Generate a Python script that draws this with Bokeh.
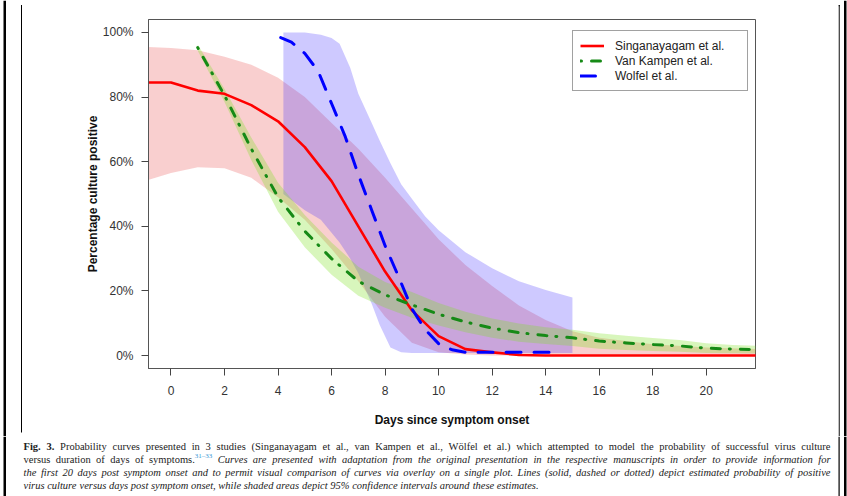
from bokeh.plotting import figure
from bokeh.layouts import row, column
from bokeh.models import Range1d, FixedTicker, Legend, LegendItem
from bokeh.core.properties import value
from bokeh.embed import file_html
from bokeh.resources import INLINE

# ---------------- data ----------------
x_ticks = [0, 2, 4, 6, 8, 10, 12, 14, 16, 18, 20]
y_ticks = [0, 20, 40, 60, 80, 100]
y_tick_labels = ["0%", "20%", "40%", "60%", "80%", "100%"]

series_names = ["Singanayagam et al.", "Van Kampen et al.", "Wolfel et al."]

# Singanayagam et al.
sing_days = [-1, 0, 1, 2, 3, 4, 5, 6, 7, 8, 9, 10, 11, 12, 13, 14, 15, 16, 18, 20, 22]
sing_est = [84.5, 84.5, 82, 81, 77.5, 72.5, 64.5, 54, 40, 26, 14, 6, 2, 1, 0.2, 0, 0, 0, 0, 0, 0]
sing_upper = [95.5, 95.2, 94.5, 92.5, 90, 86, 80, 72, 64, 55, 45.5, 36, 28, 21.5, 15.5, 11, 7.5, 5.5, 3.5, 2.5, 2]
sing_lower = [54, 56.5, 58.3, 58, 55, 49, 42, 33, 23, 12, 4, 1, 0.3, 0, 0, 0, 0, 0, 0, 0, 0]

# Van Kampen et al.
vk_days = [1, 2, 3, 4, 5, 6, 7, 8, 9, 10, 11, 12, 13, 14, 15, 16, 17, 18, 19, 20, 21, 22]
vk_est = [95.3, 80.5, 64, 49, 38.5, 30, 23, 18.8, 15.7, 12.8, 10.4, 8.5, 7.1, 6.2, 5.5, 4.5, 3.9, 3.4, 3.0, 2.3, 2.0, 1.8]
vk_upper = [96.3, 82.5, 67.5, 53.5, 43.5, 35, 27.5, 22.8, 19.7, 16.3, 13.6, 11.5, 9.9, 8.8, 8.0, 6.9, 6.1, 5.4, 4.8, 3.8, 3.3, 3.0]
vk_lower = [94.3, 78.5, 60.5, 44.5, 33.5, 25, 18.5, 14.8, 11.7, 9.3, 7.2, 5.5, 4.3, 3.6, 3.0, 2.1, 1.7, 1.4, 1.2, 0.8, 0.7, 0.6]

# Wolfel et al.
wolf_days = [4.1, 4.5, 5, 5.5, 6, 6.5, 7, 7.5, 8, 8.5, 9, 9.5, 10, 10.5, 11, 12, 13, 14, 14.6]
wolf_est = [98.4, 97, 93.5, 88, 78, 68, 56, 45, 34, 24.5, 14.5, 8, 3.7, 1.8, 1, 1, 1, 1, 1]
wolf_ci_days = [4.2, 5, 5.6, 6, 6.3, 6.7, 7, 7.5, 7.8, 8.2, 8.6, 9, 9.5, 10, 11, 12, 13, 14, 15]
wolf_upper = [100, 100, 99.3, 98.3, 96.5, 89, 81, 72, 66.5, 59.5, 53, 48.5, 43, 38.8, 32, 27, 23, 20.3, 18]
wolf_lower = [50, 45, 42, 38, 35, 30, 25.5, 16, 9.5, 2.5, 1, 0.8, 0.8, 0.8, 0.8, 0.8, 0.8, 0.8, 0.8]

caption_lines = [
    [("Fig. 3.", "bold"),
     ("Probability curves presented in 3 studies (Singanayagam et al., van Kampen et al., Wölfel et al.) "
      "which attempted to model the probability of successful virus culture", "normal")],
    [("versus duration of days of symptoms.", "normal"), ("31\u201333", "sup"),
     ("Curves are presented with adaptation from the original presentation in the respective "
      "manuscripts in order to provide information for", "italic")],
    [("the first 20 days post symptom onset and to permit visual comparison of curves via overlay on a "
      "single plot. Lines (solid, dashed or dotted) depict estimated probability of positive", "italic")],
    [("virus culture versus days post symptom onset, while shaded areas depict 95% confidence intervals "
      "around these estimates.", "italic")],
]
caption_justified = [True, True, True, False]

# ---------------- page geometry (canvas px) ----------------
W, H = 847, 496
TOP_H = 436                     # chart block height
LS_W, RS_W = 22, 9              # left / right border strips
TS_H = 6                        # top border strip
CH_W, CH_H = W - LS_W - RS_W, TOP_H - TS_H
FL, FR, FT, FB = 148, 755, 19, 368   # plot frame edges in canvas px


def blank(w, h, x0, x1, y0, y1):
    f = figure(width=w, height=h, x_range=Range1d(x0, x1), y_range=Range1d(y1, y0),
               output_backend="svg", toolbar_location=None,
               min_border_left=0, min_border_right=0, min_border_top=0, min_border_bottom=0,
               x_axis_location=None, y_axis_location=None)
    f.xgrid.visible = False
    f.ygrid.visible = False
    f.outline_line_color = None
    f.background_fill_color = "white"
    f.border_fill_color = "white"
    return f


def rule(f, x0, x1, y0, y1):
    f.quad(left=[x0], right=[x1], top=[y0], bottom=[y1], fill_color="black", line_color=None)


# ---------------- chart ----------------
p = figure(width=CH_W, height=CH_H, x_range=Range1d(-0.84, 21.84), y_range=Range1d(-4, 104),
           output_backend="svg", toolbar_location=None,
           min_border_left=FL - LS_W, min_border_right=(W - RS_W) - FR,
           min_border_top=FT - TS_H, min_border_bottom=TOP_H - FB)
p.xgrid.visible = False
p.ygrid.visible = False
p.outline_line_color = "#555555"
p.outline_line_width = 1
p.background_fill_color = "white"
p.border_fill_color = "white"

p.varea(x=sing_days, y1=sing_lower, y2=sing_upper, fill_color="#e84040", fill_alpha=0.25)
p.varea(x=wolf_ci_days, y1=wolf_lower, y2=wolf_upper, fill_color="#3c28ff", fill_alpha=0.25)
p.varea(x=vk_days, y1=vk_lower, y2=vk_upper, fill_color="#7fe020", fill_alpha=0.3)

r_sing = p.line(sing_days, sing_est, line_color="#ff0000", line_width=2.6, line_join="round")
r_vk = p.line(vk_days, vk_est, line_color="#168a16", line_width=3, line_dash="1 10 9 9",
              line_cap="round", line_join="round")
r_wolf = p.line(wolf_days, wolf_est, line_color="#0000ff", line_width=3, line_dash="15 13",
                line_cap="round", line_join="round")

legend = Legend(items=[LegendItem(label=series_names[0], renderers=[r_sing]),
                       LegendItem(label=series_names[1], renderers=[r_vk]),
                       LegendItem(label=series_names[2], renderers=[r_wolf])],
                location=(572 - FL, FB - 91), orientation="vertical",
                padding=7, spacing=0, margin=0,
                glyph_width=24, glyph_height=15, label_height=15, label_width=125,
                label_standoff=11,
                label_text_font="Liberation Sans", label_text_font_size="12px",
                label_text_color="#222222",
                border_line_color="#444444", border_line_width=1,
                background_fill_color="white", background_fill_alpha=1)
p.add_layout(legend)

for ax in (p.xaxis[0], p.yaxis[0]):
    ax.major_tick_out = 7
    ax.major_tick_in = 0
    ax.minor_tick_line_color = None
    ax.major_tick_line_color = "#444444"
    ax.axis_line_color = "#555555"
    ax.major_label_text_font = "Liberation Sans"
    ax.major_label_text_font_size = "12px"
    ax.major_label_text_color = "#333333"
    ax.axis_label_text_font = "Liberation Sans"
    ax.axis_label_text_font_size = "12px"
    ax.axis_label_text_font_style = "bold"
    ax.axis_label_text_color = "#111111"

p.xaxis.ticker = FixedTicker(ticks=x_ticks)
p.xaxis.axis_label = "Days since symptom onset"
p.xaxis.major_label_standoff = 10
p.xaxis.axis_label_standoff = 15

p.yaxis.ticker = FixedTicker(ticks=y_ticks)
p.yaxis.major_label_overrides = {t: l for t, l in zip(y_ticks, y_tick_labels)}
p.yaxis.axis_label = "Percentage culture positive"
p.yaxis.major_label_standoff = 8
p.yaxis.axis_label_standoff = 0

# ---------------- border strips ----------------
left_strip = blank(LS_W, TOP_H, 0, LS_W, 0, TOP_H)
rule(left_strip, 3, 5.5, 0, TOP_H)
rule(left_strip, 20.5, 21.8, 4.5, 432)
rule(left_strip, 20.5, LS_W, 4.5, 5.8)

top_strip = blank(CH_W, TS_H, LS_W, W - RS_W, 0, TS_H)
rule(top_strip, LS_W, W - RS_W, 4.5, 5.8)

right_strip = blank(RS_W, TOP_H, W - RS_W, W, 0, TOP_H)
rule(right_strip, W - RS_W, W - RS_W + 1.2, 4.5, TOP_H)
rule(right_strip, W - RS_W, W - RS_W + 1.2, 4.5, 5.8)
rule(right_strip, 843.5, 846, 0, TOP_H)

# ---------------- caption (justified, Times metrics = Liberation Serif) ----------------
_R = dict(zip("abcdefghijklmnopqrstuvwxyz",
              [444, 500, 444, 500, 444, 333, 500, 500, 278, 278, 500, 278, 778,
               500, 500, 500, 500, 333, 389, 278, 500, 500, 722, 500, 500, 444]))
_R.update({"A": 722, "B": 667, "C": 667, "D": 722, "E": 611, "F": 556, "G": 722, "H": 722,
           "I": 333, "K": 722, "L": 611, "M": 889, "P": 556, "S": 556, "T": 611, "V": 722,
           "W": 944, ".": 250, ",": 250, "(": 333, ")": 333, "%": 833, "\u00f6": 500,
           "\u2013": 500, "-": 333, ":": 278})
_I = dict(zip("abcdefghijklmnopqrstuvwxyz",
              [500, 500, 444, 500, 444, 278, 500, 500, 278, 278, 444, 278, 722,
               500, 500, 500, 500, 389, 389, 278, 500, 444, 667, 444, 444, 389]))
_I.update({"A": 611, "C": 667, "F": 611, "L": 556, "P": 611, "S": 500, "T": 556, "W": 833,
           ".": 250, ",": 250, "(": 333, ")": 333, "%": 833, "-": 333, ":": 333})
_B = {"F": 611, "i": 278, "g": 500, ".": 250}
METRICS = {"normal": _R, "italic": _I, "bold": _B, "sup": _R}
CAP_SIZE, SUP_SIZE = 10.5, 7.0
CAP_X0, CAP_X1 = 23, 830
line_y = [446, 459, 472, 485]


def width(s, style):
    tab = METRICS[style]
    size = SUP_SIZE if style == "sup" else CAP_SIZE
    return sum(tab.get(c, 500) for c in s) * size / 1000.0


cap = blank(W, H - TOP_H, 0, W, TOP_H, H)
rule(cap, 3, 5.5, TOP_H, H)
rule(cap, W - RS_W, W - RS_W + 1.2, TOP_H, H)
rule(cap, 843.5, 846, TOP_H, H)

words = {"normal": ([], [], []), "italic": ([], [], []), "bold": ([], [], []), "sup": ([], [], [])}
space_w = 0.25 * CAP_SIZE
for segs, Y, just in zip(caption_lines, line_y, caption_justified):
    toks = []
    for text, style in segs:
        if style == "sup":
            toks.append((text, style, False))
            continue
        for w in text.split(" "):
            toks.append((w, style, len(toks) > 0))
    n_gaps = sum(1 for t in toks if t[2])
    natural = sum(width(t[0], t[1]) for t in toks) + n_gaps * space_w
    gap = space_w + ((CAP_X1 - CAP_X0 - natural) / n_gaps if just else 0.0)
    x = CAP_X0
    for text, style, sp in toks:
        if sp:
            x += gap
        xs, ys, ts = words[style]
        xs.append(x)
        ys.append(Y - 3.5 if style == "sup" else Y)
        ts.append(text)
        x += width(text, style)

for style, (xs, ys, ts) in words.items():
    if not ts:
        continue
    cap.text(x=xs, y=ys, text=ts,
             text_font=value("Liberation Serif"),
             text_font_size=value("%gpx" % (SUP_SIZE if style == "sup" else CAP_SIZE)),
             text_font_style=value("normal" if style == "sup" else style),
             text_align=value("left"), text_baseline=value("middle"),
             text_color="#3a9ad6" if style == "sup" else "#222222")

layout = column(row(left_strip, column(top_strip, p), right_strip), cap)
open("out.html", "w").write(file_html(layout, INLINE))
